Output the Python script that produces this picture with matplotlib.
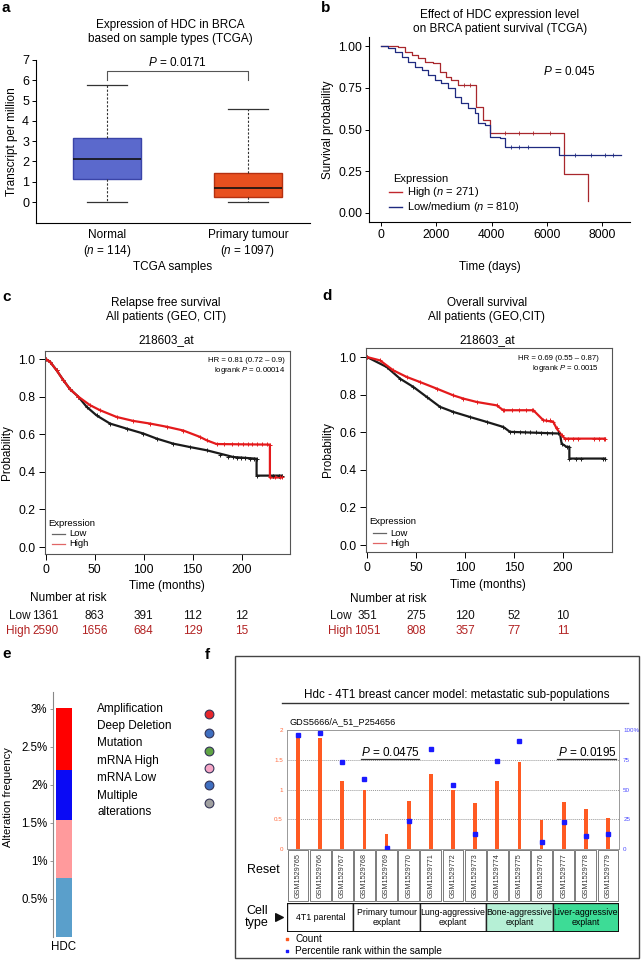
import matplotlib
matplotlib.use('Agg')
import matplotlib.pyplot as plt
from matplotlib.patches import Rectangle
import matplotlib.transforms as mtrans

plt.rcParams['font.family'] = ['Liberation Sans', 'DejaVu Sans']
plt.rcParams['mathtext.fontset'] = 'custom'
plt.rcParams['mathtext.it'] = 'Liberation Sans:italic'
plt.rcParams['mathtext.rm'] = 'Liberation Sans'
plt.rcParams['axes.linewidth'] = 0.8

# ---------------- data ----------------
# panel a
a_groups = ['Normal', 'Primary tumour']
a_n = [114, 1097]
a_whislo = [0.0, 0.0]
a_q1 = [1.15, 0.27]
a_med = [2.1, 0.68]
a_q3 = [3.15, 1.45]
a_whishi = [5.75, 4.6]
a_colors = ['#5b69cc', '#e8501f']
a_edges = ['#3a44a8', '#b53010']

# panel b (days, survival)
b_high_t = [0, 625, 865, 1105, 1346, 1586, 1886, 2126, 2366, 2547, 2787, 3447, 3687, 3928, 6631, 7471]
b_high_s = [1.0, 0.996, 0.966, 0.946, 0.926, 0.906, 0.896, 0.846, 0.816, 0.796, 0.768, 0.636, 0.557, 0.477, 0.235, 0.07]
b_low_t = [0, 264, 504, 745, 985, 1225, 1466, 1706, 1946, 2186, 2426, 2667, 2907, 3147, 3387, 3507, 3748, 3928, 4288, 4468, 6450, 8672]
b_low_s = [1.0, 0.986, 0.966, 0.936, 0.906, 0.876, 0.856, 0.826, 0.796, 0.776, 0.746, 0.696, 0.657, 0.627, 0.597, 0.537, 0.527, 0.457, 0.447, 0.397, 0.35, 0.35]
b_high_cens_t = [3000, 3200, 4500, 5000, 5500, 6100]
b_high_cens_s = [0.768, 0.768, 0.477, 0.477, 0.477, 0.477]
b_low_cens_t = [4700, 5000, 5300, 7000, 7600, 8100, 8400]
b_low_cens_s = [0.397, 0.397, 0.397, 0.35, 0.35, 0.35, 0.35]

# panel c (months, probability)
c_high_t = [0, 4.4, 11.2, 18, 24.8, 33.3, 45.2, 55.4, 72.4, 89.4, 106.4, 123.4, 140.4, 157.4, 164.2, 174.4, 228.8, 228.8, 240.7]
c_high_s = [1, 0.986, 0.94, 0.888, 0.84, 0.80, 0.755, 0.728, 0.692, 0.671, 0.657, 0.64, 0.62, 0.586, 0.568, 0.548, 0.545, 0.37, 0.37]
c_low_t = [0, 4.4, 11.2, 18, 24.8, 33.3, 41.8, 52, 65.6, 82.6, 99.6, 113.2, 130.2, 147.2, 164.2, 191.4, 215.2, 215.2, 240.7]
c_low_s = [1, 0.986, 0.94, 0.888, 0.84, 0.80, 0.746, 0.70, 0.657, 0.63, 0.604, 0.577, 0.55, 0.532, 0.515, 0.479, 0.47, 0.38, 0.38]
c_high_cens_t = [182, 190, 196, 201, 206, 211, 216, 221, 226, 234, 239]
c_high_cens_s = [0.546, 0.546, 0.546, 0.546, 0.546, 0.546, 0.546, 0.546, 0.546, 0.37, 0.37]
c_low_cens_t = [178, 186, 195, 199, 203, 208, 213, 232, 238]
c_low_cens_s = [0.49, 0.48, 0.475, 0.472, 0.472, 0.47, 0.47, 0.38, 0.38]
c_risk_low = [1361, 863, 391, 112, 12]
c_risk_high = [2590, 1656, 684, 129, 15]

# panel d
d_high_t = [0, 13.3, 26.9, 40.5, 54.1, 71.1, 88.1, 98.3, 111.9, 132.3, 139.1, 169.7, 179.9, 190.1, 193.5, 198.6, 202, 242.9]
d_high_s = [1, 0.982, 0.929, 0.894, 0.867, 0.832, 0.796, 0.779, 0.761, 0.743, 0.717, 0.717, 0.664, 0.655, 0.62, 0.584, 0.566, 0.566]
d_low_t = [0, 20.1, 33.7, 47.3, 60.9, 74.5, 88.1, 105.1, 122.1, 139.1, 145.9, 196.9, 198.6, 203.7, 206.5, 206.5, 242.9]
d_low_s = [1, 0.947, 0.885, 0.841, 0.788, 0.735, 0.708, 0.681, 0.655, 0.628, 0.602, 0.593, 0.54, 0.522, 0.522, 0.46, 0.46]
d_high_cens_t = [140, 148, 155, 162, 168, 183, 187, 205, 210, 215, 232, 237, 242]
d_high_cens_s = [0.717, 0.717, 0.717, 0.717, 0.717, 0.664, 0.664, 0.566, 0.566, 0.566, 0.566, 0.566, 0.566]
d_low_cens_t = [150, 156, 161, 166, 172, 178, 184, 189, 195, 213, 218, 241]
d_low_cens_s = [0.60, 0.60, 0.60, 0.60, 0.60, 0.594, 0.594, 0.594, 0.594, 0.46, 0.46, 0.46]
risk_months = [0, 50, 100, 150, 200]
d_risk_low = [351, 275, 120, 52, 10]
d_risk_high = [1051, 808, 357, 77, 11]

# panel e
e_segments = ['mRNA Low', 'mRNA High', 'Deep Deletion', 'Amplification']
e_values = [0.77, 0.77, 0.66, 0.81]
e_colors = ['#5a9fcb', '#ff9a9c', '#0a0af5', '#ff0000']
e_legend = ['Amplification', 'Deep Deletion', 'Mutation', 'mRNA High', 'mRNA Low', 'Multiple\nalterations']
e_legend_colors = ['#e8262b', '#3f6fc0', '#60a445', '#f6a6c6', '#3f6fc0', '#a0a0a0']

# panel f
f_samples = ['GSM1529765', 'GSM1529766', 'GSM1529767', 'GSM1529768', 'GSM1529769',
             'GSM1529770', 'GSM1529771', 'GSM1529772', 'GSM1529773', 'GSM1529774',
             'GSM1529775', 'GSM1529776', 'GSM1529777', 'GSM1529778', 'GSM1529779']
f_count = [1.89, 1.86, 1.14, 1.0, 0.25, 0.81, 1.26, 1.0, 0.77, 1.15, 1.47, 0.49, 0.79, 0.67, 0.52]
f_pct = [95.5, 97.2, 73.4, 58.6, 1.0, 23.5, 84.0, 53.8, 12.6, 74.2, 90.5, 5.9, 22.7, 10.9, 12.9]
f_groups = ['4T1 parental', 'Primary tumour\nexplant', 'Lung-aggressive\nexplant',
            'Bone-aggressive\nexplant', 'Liver-aggressive\nexplant']
f_group_span = [(0, 2), (3, 5), (6, 8), (9, 11), (12, 14)]
f_group_colors = ['white', 'white', 'white', '#b6f0d6', '#3ddc96']

# ---------------- figure ----------------
W, H = 642, 968
fig = plt.figure(figsize=(W / 100, H / 100), dpi=100)


def add_ax(l, t, r, b):
    return fig.add_axes([l / W, 1 - b / H, (r - l) / W, (b - t) / H])


FS = 8

# ===== panel a =====
ax = add_ax(36, 60, 310, 223)
stats = []
for i in range(2):
    stats.append(dict(whislo=a_whislo[i], q1=a_q1[i], med=a_med[i], q3=a_q3[i], whishi=a_whishi[i]))
bp = ax.bxp(stats, positions=[1, 2], widths=0.48, capwidths=0.28, patch_artist=True,
            showfliers=False,
            whiskerprops=dict(linestyle=(0, (2, 1.5)), color='#333333', lw=0.8),
            capprops=dict(color='#333333', lw=0.9),
            medianprops=dict(color='#111111', lw=1.2))
for patch, fc, ec in zip(bp['boxes'], a_colors, a_edges):
    patch.set_facecolor(fc)
    patch.set_edgecolor(ec)
    patch.set_linewidth(1.0)
ax.set_xlim(0.496, 2.44)
ax.set_ylim(-1.03, 7)
ax.set_yticks(range(8))
ax.set_xticks([1, 2])
ax.set_xticklabels([f'{g}\n($\\mathit{{n}}$ = {n})' for g, n in zip(a_groups, a_n)], fontsize=FS + 0.5)
ax.tick_params(axis='x', length=0, pad=4)
ax.tick_params(axis='y', labelsize=FS + 1, length=3, width=0.7, pad=2)
for s in ['top', 'right']:
    ax.spines[s].set_visible(False)
ax.plot([1, 1, 2, 2], [6.0, 6.45, 6.45, 6.0], color='#555555', lw=0.8)
ax.text(1.5, 6.55, '$\\mathit{P}$ = 0.0171', ha='center', va='bottom', fontsize=FS + 0.5)
ax.set_ylabel('Transcript per million', fontsize=FS + 0.5, labelpad=3)

# ===== panel b =====
ax = add_ax(369, 37, 630, 222)
ax.step(b_high_t, b_high_s, where='post', color='#a8272c', lw=0.9)
ax.step(b_low_t, b_low_s, where='post', color='#1f2a80', lw=0.9)
ax.plot(b_high_cens_t, b_high_cens_s, ls='none', marker='|', ms=2.5, color='#a8272c', mew=0.6)
ax.plot(b_low_cens_t, b_low_cens_s, ls='none', marker='|', ms=2.5, color='#1f2a80', mew=0.6)
ax.set_xlim(-432, 9000)
ax.set_ylim(-0.054, 1.054)
ax.set_xticks([0, 2000, 4000, 6000, 8000])
ax.set_yticks([0, 0.25, 0.5, 0.75, 1.0])
ax.set_yticklabels(['0.00', '0.25', '0.50', '0.75', '1.00'])
ax.tick_params(labelsize=FS + 0.7, length=3, width=0.7, pad=2)
for s in ['top', 'right']:
    ax.spines[s].set_visible(False)
ax.set_ylabel('Survival probability', fontsize=FS + 0.5, labelpad=3)
ax.text(6800, 0.845, '$\\mathit{P}$ = 0.045', ha='center', va='center', fontsize=FS + 0.5)


def km_axes(ax, ht, hs, lt, ls_, hct, hcs, lct, lcs):
    ax.plot(lt, ls_, color='#1a1a1a', lw=1.6, marker='+', ms=3.5, mew=0.7)
    ax.plot(ht, hs, color='#e41a1c', lw=1.6, marker='+', ms=3.5, mew=0.7)
    ax.plot(lct, lcs, ls='none', color='#1a1a1a', marker='+', ms=3.5, mew=0.7)
    ax.plot(hct, hcs, ls='none', color='#e41a1c', marker='+', ms=3.5, mew=0.7)
    ax.set_yticks([0, 0.2, 0.4, 0.6, 0.8, 1.0])
    ax.set_yticklabels(['0.0', '0.2', '0.4', '0.6', '0.8', '1.0'])
    ax.set_xticks(risk_months)
    ax.tick_params(labelsize=FS + 0.7, length=4, width=0.7, pad=3)
    for s in ax.spines.values():
        s.set_color('#555555')
    ax.set_ylabel('Probability', fontsize=FS + 0.5, labelpad=4)


# ===== panel c =====
axc = add_ax(45, 351, 290, 554)
km_axes(axc, c_high_t, c_high_s, c_low_t, c_low_s, c_high_cens_t, c_high_cens_s, c_low_cens_t, c_low_cens_s)
axc.set_xlim(-0.7, 249.3)
axc.set_ylim(-0.037, 1.043)

# ===== panel d =====
axd = add_ax(366, 348, 612, 552)
km_axes(axd, d_high_t, d_high_s, d_low_t, d_low_s, d_high_cens_t, d_high_cens_s, d_low_cens_t, d_low_cens_s)
axd.set_xlim(-1.0, 250)
axd.set_ylim(-0.037, 1.048)

# ===== panel e =====
axe = add_ax(53, 692, 75, 937)
bottom = 0
for v, c in zip(e_values, e_colors):
    axe.bar(0, v, bottom=bottom, width=0.73, color=c, edgecolor='none')
    bottom += v
axe.set_xlim(-0.5, 0.5)
axe.set_ylim(0, 3.22)
yt = [0.5, 1.0, 1.5, 2.0, 2.5, 3.0]
axe.set_yticks(yt)
axe.set_yticklabels([f'{v:g}%' for v in yt])
axe.set_xticks([0])
axe.set_xticklabels(['HDC'])
axe.tick_params(axis='y', labelsize=FS + 0.3, length=2, width=0.6, pad=2, color='#888888')
axe.tick_params(axis='x', labelsize=FS + 0.3, length=0, pad=3)
for s in ['top', 'right', 'bottom']:
    axe.spines[s].set_visible(False)
axe.spines['left'].set_color('#888888')
axe.patch.set_alpha(0)

# ===== panel f =====
axf = add_ax(287, 730, 619, 849)
xs = list(range(len(f_samples)))
axf.bar(xs, f_count, width=0.17, color='#ff5a22', zorder=3)
axf.set_xlim(-0.5, 14.5)
axf.set_ylim(0, 2)
for yv in [0.5, 1.0, 1.5]:
    axf.axhline(yv, color='#999999', lw=0.7, ls=(0, (1, 1)), zorder=1)
axf.set_yticks([0, 0.5, 1, 1.5, 2])
axf.set_yticklabels(['0', '0.5', '1', '1.5', '2'])
axf.tick_params(axis='y', labelsize=4.5, labelcolor='#ff6a3d', length=0, pad=3)
axf.set_xticks([])
for s in axf.spines.values():
    s.set_color('#999999')
    s.set_linewidth(0.7)
axf2 = axf.twinx()
axf2.plot(xs, f_pct, ls='none', marker='s', ms=2.2, color='#1a1aff', zorder=4)
axf2.set_ylim(0, 100)
axf2.set_yticks([0, 25, 50, 75, 100])
axf2.set_yticklabels(['0', '25', '50', '75', '100%'])
axf2.tick_params(axis='y', labelsize=4.5, labelcolor='#4a4aff', length=0, pad=3)
for s in axf2.spines.values():
    s.set_visible(False)
axf.text(4.15, 1.63, '$\\mathit{P}$ = 0.0475', ha='center', va='center', fontsize=FS + 0.5)
axf.plot([2.84, 5.46], [1.52, 1.52], color='#333333', lw=0.9)
axf.text(13.06, 1.63, '$\\mathit{P}$ = 0.0195', ha='center', va='center', fontsize=FS + 0.5)
axf.plot([11.7, 14.37], [1.52, 1.52], color='#333333', lw=0.9)

# sample label cells
axs = add_ax(287, 849, 619, 902)
axs.set_xlim(-0.5, 14.5)
axs.set_ylim(0, 1)
axs.axis('off')
for i, name in enumerate(f_samples):
    axs.add_patch(Rectangle((i - 0.47, 0.01), 0.94, 0.98, facecolor='white', edgecolor='#666666', lw=0.6))
    axs.text(i, 0.5, name, rotation=90, ha='center', va='center', fontsize=5.2, color='#333333')

# cell type row
axt = add_ax(287, 903, 619, 932)
axt.set_xlim(-0.5, 14.5)
axt.set_ylim(0, 1)
axt.axis('off')
for (i0, i1), g, c in zip(f_group_span, f_groups, f_group_colors):
    axt.add_patch(Rectangle((i0 - 0.5, 0), i1 - i0 + 1, 1, facecolor=c, edgecolor='#222222', lw=1.0))
    axt.text((i0 + i1) / 2, 0.5, g, ha='center', va='center', fontsize=6.3, linespacing=1.15)
axt.add_patch(Rectangle((-0.5, 0), 15, 1, facecolor='none', edgecolor='#111111', lw=1.4))

# ===== overlay (text in pixel coordinates) =====
ov = fig.add_axes([0, 0, 1, 1])
ov.set_xlim(0, W)
ov.set_ylim(H, 0)
ov.axis('off')
ov.patch.set_alpha(0)


def T(x, y, s, **kw):
    kw.setdefault('fontsize', FS + 0.5)
    kw.setdefault('ha', 'center')
    kw.setdefault('va', 'center')
    ov.text(x, y, s, **kw)


# panel letters
for lab, x, y in [('a', 1, 8), ('b', 321, 8), ('c', 2, 297), ('d', 322, 296), ('e', 2, 654), ('f', 205, 655)]:
    T(x, y, lab, fontsize=11, fontweight='bold', ha='left')

# panel a texts
T(170, 32, 'Expression of HDC in BRCA\nbased on sample types (TCGA)', linespacing=1.25)
T(173, 267, 'TCGA samples')

# panel b texts
T(500, 22, 'Effect of HDC expression level\non BRCA patient survival (TCGA)', linespacing=1.25)
T(490, 267, 'Time (days)')
T(393, 179, 'Expression', ha='left', fontsize=FS)
ov.plot([389, 402], [192, 192], color='#c0272d', lw=1.0)
T(407, 192, 'High ($\\mathit{n}$ = 271)', ha='left', fontsize=FS)
ov.plot([389, 402], [207, 207], color='#1f2a80', lw=1.0)
T(407, 207, 'Low/medium ($\\mathit{n}$ = 810)', ha='left', fontsize=FS)

# panel c / d texts
for cx, tx, hr, lr, ly in [(166, 285, 'HR = 0.81 (0.72 – 0.9)', 'logrank $\\mathit{P}$ = 0.00014', 523),
                           (487, 599, 'HR = 0.69 (0.55 – 0.87)', 'logrank $\\mathit{P}$ = 0.0015', 522)]:
    T(cx, 310, 'Relapse free survival\nAll patients (GEO, CIT)' if cx < 300 else
      'Overall survival\nAll patients (GEO,CIT)', linespacing=1.25)
    T(cx, 340, '218603_at')
    T(tx, 360 if cx < 300 else 358, hr, ha='right', fontsize=5.6)
    T(tx, 371 if cx < 300 else 369, lr, ha='right', fontsize=5.6)
    lx = 48 if cx < 300 else 369
    T(lx, ly, 'Expression', ha='left', fontsize=6.8)
    ov.plot([lx + 4, lx + 17], [ly + 11, ly + 11], color='#666666', lw=0.9)
    T(lx + 21, ly + 11, 'Low', ha='left', fontsize=6.8)
    ov.plot([lx + 4, lx + 17], [ly + 21, ly + 21], color='#e06666', lw=0.9)
    T(lx + 21, ly + 21, 'High', ha='left', fontsize=6.8)

T(167, 586, 'Time (months)')
T(488, 585, 'Time (months)')
T(68, 598, 'Number at risk')
T(388, 599, 'Number at risk')

for axk, rl, rh, x0 in [(axc, c_risk_low, c_risk_high, 45.7), (axd, d_risk_low, d_risk_high, 367)]:
    tr = mtrans.blended_transform_factory(axk.transData, ov.transData)
    for m, vl, vh in zip(risk_months, rl, rh):
        ov.text(m, 616, str(vl), transform=tr, ha='center', va='center', fontsize=FS + 0.5, color='#111111')
        ov.text(m, 631, str(vh), transform=tr, ha='center', va='center', fontsize=FS + 0.5, color='#b22222')
    T(x0 - 15, 616, 'Low', ha='right', color='#111111')
    T(x0 - 15, 631, 'High', ha='right', color='#b22222')

# panel e texts
T(8, 797, 'Alteration frequency', rotation=90, fontsize=FS)
ey = [709, 726, 743, 761, 778, 796]
for lab, y in zip(e_legend, ey):
    T(97, y if '\n' not in lab else y + 8, lab, ha='left', fontsize=FS + 0.5, linespacing=1.55)
cy = [714, 733, 751, 768, 785, 803]
for c, y in zip(e_legend_colors, cy):
    ov.scatter([209], [y], s=40, color=c, edgecolor='#333355', linewidth=0.8)

# panel f frame and texts
ov.add_patch(Rectangle((235, 656), 404, 302, facecolor='none', edgecolor='#444444', lw=1.0))
T(457, 695, 'Hdc - 4T1 breast cancer model: metastatic sub-populations', fontsize=FS + 0.4)
ov.plot([282, 628], [703, 703], color='#333333', lw=1.0)
T(289, 722, 'GDS5666/A_51_P254656', ha='left', fontsize=6.6)
T(263, 870, 'Reset', fontsize=FS + 1)
T(257, 917, 'Cell\ntype', fontsize=FS + 1, linespacing=1.1)
ov.scatter([279], [917], marker='>', s=30, color='#111111')
ov.scatter([287], [939], marker='s', s=4, color='#ff5a22')
T(295, 939, 'Count', ha='left', fontsize=7.2)
ov.scatter([287], [951], marker='s', s=4, color='#1a1aff')
T(295, 951, 'Percentile rank within the sample', ha='left', fontsize=7.2)

fig.savefig('out.png', dpi=100)
